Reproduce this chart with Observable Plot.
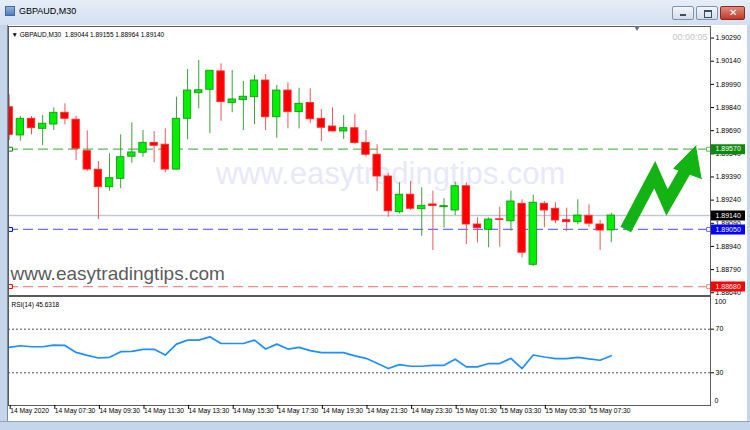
<!DOCTYPE html>
<html><head><meta charset="utf-8">
<script src="https://cdn.jsdelivr.net/npm/d3@7"></script>
<script src="https://cdn.jsdelivr.net/npm/@observablehq/plot@0.6"></script>
<style>
body{margin:0;background:#fff;}
#win{position:relative;width:750px;height:430px;overflow:hidden;background:#c5d6ea;font-family:"Liberation Sans",Arial,sans-serif;}
#titlebar{position:absolute;left:0;top:0;width:750px;height:25px;background:linear-gradient(#e6eef8,#d3e0f0);}
#title{position:absolute;left:19px;top:6px;font-size:9px;color:#000;}
#icon{position:absolute;left:5px;top:6px;width:10px;height:10px;background:linear-gradient(#8fb4de,#4d7fbf);border:1px solid #46689a;box-sizing:border-box;}
.btn{position:absolute;top:6px;width:22px;height:14px;border:1px solid #7f93ab;border-radius:2px;box-sizing:border-box;background:linear-gradient(#f4f7fb,#d2dce8);}
#client{position:absolute;left:7px;top:25px;width:739px;height:396px;background:#fff;border-left:1px solid #7a8aa0;}
#bottomline{position:absolute;left:0;top:421px;width:750px;height:9px;background:#c5d6ea;border-top:1px solid #8fa3bb;}
#shift{position:absolute;left:634px;top:26px;width:0;height:0;border-left:3px solid transparent;border-right:3px solid transparent;border-top:5px solid #6b7380;}
.abs{position:absolute;left:0;}
</style></head><body>
<div id="win">
  <div id="titlebar"><div id="icon"></div><div id="title">GBPAUD,M30</div>
    <div class="btn" style="left:672px"><div style="position:absolute;left:7px;top:7px;width:6px;height:2px;background:#3b4d66"></div></div>
    <div class="btn" style="left:696px"><div style="position:absolute;left:7px;top:3px;width:6px;height:5px;border:1px solid #3b4d66;border-top-width:2px"></div></div>
    <div class="btn" style="left:720px;width:25px;background:linear-gradient(#e08b7b,#c1392b);border-color:#8a2a20"><div style="position:absolute;left:8px;top:0px;color:#fff;font-size:10px;font-weight:bold;font-family:'DejaVu Sans'">✕</div></div>
  </div>
  <div id="client"></div>
  <div id="bottomline"></div>
  <div id="mainplot" class="abs" style="top:25px"></div>
  <div id="rsiplot" class="abs" style="top:296px"></div>
  <div id="shift"></div>
</div>
<script>
// ---- data (GBPAUD M30, 14 May 05:30 .. 15 May 08:30) ----
const opens  = [1.89842,1.89659,1.89767,1.89702,1.89730,1.89806,1.89761,1.89557,1.89437,1.89324,1.89378,1.89521,1.89547,1.89611,1.89599,1.89438,1.89767,1.89933,1.89955,1.90074,1.89868,1.89888,1.89907,1.90015,1.89777,1.89950,1.89810,1.89869,1.89767,1.89717,1.89685,1.89706,1.89611,1.89534,1.89393,1.89162,1.89275,1.89181,1.89212,1.89194,1.89173,1.89330,1.89082,1.89048,1.89116,1.89103,1.89216,1.88821,1.89216,1.89184,1.89110,1.89097,1.89138,1.89082,1.89044];
const highs  = [1.89923,1.89782,1.89782,1.89788,1.89838,1.89864,1.89784,1.89689,1.89490,1.89540,1.89663,1.89741,1.89691,1.89685,1.89702,1.89907,1.90087,1.90145,1.90080,1.90123,1.90080,1.90009,1.90048,1.90054,1.89983,1.90000,1.89965,1.89961,1.89827,1.89838,1.89788,1.89795,1.89691,1.89599,1.89411,1.89352,1.89361,1.89320,1.89298,1.89249,1.89356,1.89352,1.89125,1.89125,1.89194,1.89298,1.89242,1.89272,1.89231,1.89223,1.89188,1.89242,1.89210,1.89108,1.89155];
const lows   = [1.89626,1.89622,1.89663,1.89594,1.89691,1.89728,1.89497,1.89426,1.89114,1.89298,1.89313,1.89479,1.89518,1.89482,1.89417,1.89435,1.89631,1.89832,1.89670,1.89751,1.89806,1.89691,1.89728,1.89691,1.89641,1.89702,1.89702,1.89735,1.89620,1.89681,1.89633,1.89599,1.89518,1.89296,1.89129,1.89151,1.89173,1.89006,1.88914,1.89058,1.89140,1.88952,1.88963,1.88931,1.88935,1.89039,1.88866,1.88810,1.89061,1.89087,1.89037,1.89080,1.89065,1.88914,1.88964];
const closes = [1.89663,1.89767,1.89706,1.89735,1.89806,1.89767,1.89573,1.89438,1.89324,1.89382,1.89518,1.89549,1.89611,1.89592,1.89438,1.89767,1.89950,1.89952,1.90078,1.89875,1.89892,1.89910,1.90015,1.89777,1.89950,1.89810,1.89864,1.89764,1.89709,1.89685,1.89706,1.89610,1.89534,1.89393,1.89168,1.89275,1.89184,1.89203,1.89202,1.89201,1.89330,1.89082,1.89058,1.89114,1.89111,1.89231,1.88899,1.89223,1.89173,1.89108,1.89097,1.89140,1.89087,1.89043,1.89140];
const rsi14  = [53.3,54.8,53.9,53.9,55.4,55.1,48.7,46.0,43.6,44.2,49.4,49.7,51.5,51.5,46.3,56.3,60.0,60.0,63.0,56.9,56.9,56.9,60.0,51.8,56.3,51.8,53.3,50.3,48.5,48.5,48.5,45.5,43.3,38.8,33.9,37.5,36.0,36.0,36.9,36.9,42.4,35.4,35.4,38.5,38.5,43.3,33.9,46.3,44.5,43.0,43.0,44.2,42.7,41.5,45.63];
const priceTicks = [1.90290,1.90140,1.89990,1.89840,1.89690,1.89540,1.89390,1.89240,1.89090,1.88940,1.88790,1.88640];
const timeTickIdx = [0,4,8,12,16,20,24,28,32,36,40,44,48,52];
const timeLabels = ["14 May 2020","14 May 07:30","14 May 09:30","14 May 11:30","14 May 13:30","14 May 15:30","14 May 17:30","14 May 19:30","14 May 21:30","14 May 23:30","15 May 01:30","15 May 03:30","15 May 05:30","15 May 07:30"];
const levelNames  = ["resistance","bid","support","stop"];
const levelPrices = [1.89570,1.89140,1.89050,1.88680];
const levelColors = ["#5cb85c","#c3c9cf","#6e6eff","#ff8a8a"];
const tagColors   = ["#0c8a0c","#000000","#0000ff","#ff0000"];
const arrowIdx    = [55.3,57.9,59.0,60.9];
const arrowPrice  = [1.89050,1.89405,1.89225,1.89465];
const headIdx     = [61.6,59.6,62.1];
const headPrice   = [1.89592,1.89445,1.89380];
const rsiLevels = [70,30];
const header = "▼ GBPAUD,M30  1.89044 1.89155 1.88964 1.89140";

// ---- derived tables ----
const candles = opens.map((o,i)=>({i,o,h:highs[i],l:lows[i],c:closes[i],up:closes[i]>=o}));
const levels = levelNames.map((n,k)=>({name:n,price:levelPrices[k],color:levelColors[k],tag:tagColors[k]}));
const dashed = levels.filter(d=>d.name!=="bid");
const arrow = arrowIdx.map((x,k)=>({x,y:arrowPrice[k]}));
const head = headIdx.map((x,k)=>({x,y:headPrice[k]}));
const W = 750, ML = 8, MR = 40;
const xDomain = [-0.063, 62.9];
const font = "Liberation Sans, Arial, sans-serif";
const GREEN = "#13b313";

const main = Plot.plot({
  width: W, height: 271, marginLeft: ML, marginRight: MR, marginTop: 1, marginBottom: 1,
  style: {background: "transparent", overflow: "visible", fontFamily: font, color: "#000"},
  color: {type: "identity"},
  x: {domain: xDomain, axis: null},
  y: {domain: [1.88622, 1.90365], axis: null},
  marks: [
    Plot.text(["www.easytradingtips.com"], {frameAnchor: "middle", dx: 31, dy: 13, fontSize: 31, fill: "#e8e8fb"}),
    Plot.ruleY(levels.filter(d=>d.name==="bid"), {y: "price", stroke: "color", strokeWidth: 1.5}),
    Plot.ruleY(dashed, {y: "price", stroke: "color", strokeWidth: 1.3, strokeDasharray: "10,5"}),
    Plot.dot(dashed, {y: "price", frameAnchor: "left", dx: 2, symbol: "square", r: 2.2, stroke: "tag", fill: "white", strokeWidth: 1}),
    Plot.dot(dashed, {y: "price", frameAnchor: "right", dx: -2, symbol: "square", r: 2.2, stroke: "color", fill: "white", strokeWidth: 1}),
    Plot.ruleX(candles, {x: "i", y1: "l", y2: "h", stroke: d => d.up ? "#3aa03a" : "#e65a5a", strokeWidth: 1, clip: true}),
    Plot.rect(candles, {x1: d => d.i - 0.33, x2: d => d.i + 0.33, y1: "o", y2: "c", fill: d => d.up ? "#00f000" : "#ff0000", stroke: d => d.up ? "#129a12" : "#ff2a2a", strokeWidth: 0.9, clip: true}),
    Plot.line(arrow, {x: "x", y: "y", stroke: GREEN, strokeWidth: 12, strokeLinejoin: "miter", strokeMiterlimit: 10, strokeLinecap: "butt"}),
    Plot.line(head, {x: "x", y: "y", fill: GREEN, stroke: GREEN, strokeWidth: 1}),
    Plot.text([header], {frameAnchor: "top-left", dx: 3, dy: 6, fontSize: 6.5, fill: "#000", textAnchor: "start"}),
    Plot.text(["00:00:05"], {frameAnchor: "top-right", dx: -3, dy: 7, fontSize: 9, fill: "#c4c4c4", textAnchor: "end"}),
    Plot.text(["www.easytradingtips.com"], {frameAnchor: "bottom-left", dx: 2, dy: -16, fontSize: 19, fill: "#5c5c5c", textAnchor: "start"}),
    Plot.frame({stroke: "#5a5a5a", strokeWidth: 1}),
    Plot.axisY(priceTicks, {anchor: "right", tickSize: 3, tickPadding: 2, tickFormat: d => d.toFixed(5), fontSize: 7, label: null, stroke: "#000", fill: "#000"}),
    Plot.ruleY(levels, {y: "price", stroke: "tag", strokeWidth: 10, insetLeft: W - ML - MR + 1, insetRight: -35}),
    Plot.text(levels, {y: "price", text: d => d.price.toFixed(5), frameAnchor: "right", textAnchor: "start", dx: 5, fill: "#fff", fontSize: 7})
  ]
});
document.getElementById("mainplot").appendChild(main);

const rsiPts = rsi14.map((v,i)=>({i,v}));
const rsiChart = Plot.plot({
  width: W, height: 124, marginLeft: ML, marginRight: MR, marginTop: 0, marginBottom: 15,
  style: {background: "transparent", overflow: "visible", fontFamily: font, color: "#000"},
  x: {domain: xDomain, axis: null},
  y: {domain: [0, 100], axis: null},
  marks: [
    Plot.ruleY(rsiLevels, {stroke: "#222", strokeDasharray: "2,2", strokeWidth: 0.8}),
    Plot.line(rsiPts, {x: "i", y: "v", stroke: "#1e8fff", strokeWidth: 1.7}),
    Plot.text(["RSI(14) 45.6318"], {frameAnchor: "top-left", dx: 3, dy: 6, fontSize: 6.5, fill: "#000", textAnchor: "start"}),
    Plot.frame({stroke: "#5a5a5a", strokeWidth: 1}),
    Plot.axisY(rsiLevels, {anchor: "right", tickSize: 3, tickPadding: 2, fontSize: 7, label: null}),
    Plot.text([100], {y: d => d, text: d => String(d), frameAnchor: "right", textAnchor: "start", dx: 4, dy: 5, fontSize: 7}),
    Plot.text([0], {y: d => d, text: d => String(d), frameAnchor: "right", textAnchor: "start", dx: 4, dy: -5, fontSize: 7}),
    Plot.axisX(timeTickIdx, {anchor: "bottom", tickSize: 4, tickPadding: -1, textAnchor: "start", dx: 1, fontSize: 6.7, label: null, tickFormat: d => timeLabels[timeTickIdx.indexOf(d)]})
  ]
});
document.getElementById("rsiplot").appendChild(rsiChart);
</script>
</body></html>
